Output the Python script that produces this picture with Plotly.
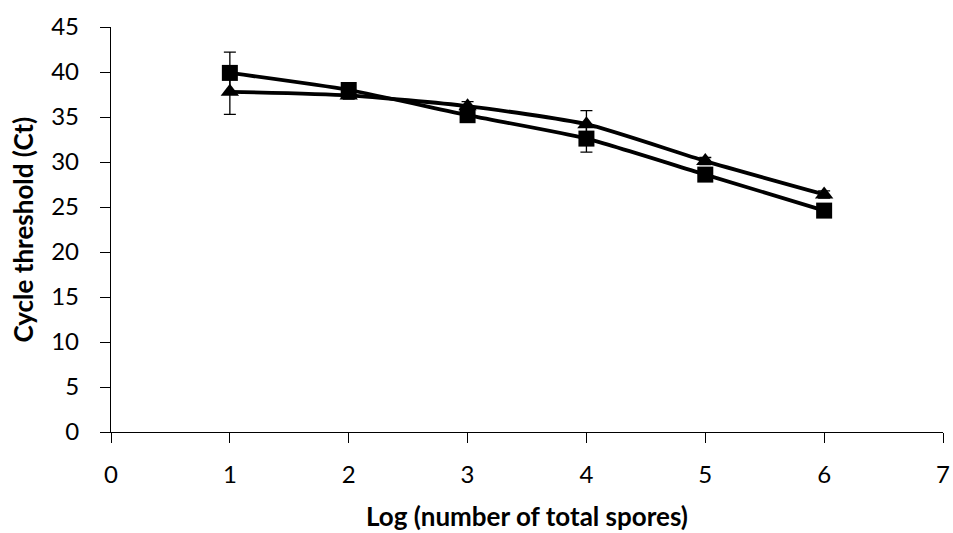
import plotly.graph_objects as go

x_vals = [1, 2, 3, 4, 5, 6]
square_ct = [39.9, 38.0, 35.2, 32.6, 28.6, 24.6]
square_err = [2.3, 0.4, 0.5, 1.5, 0.4, 0.4]
triangle_ct = [37.8, 37.4, 36.2, 34.2, 30.1, 26.4]
triangle_err = [2.5, 0.4, 0.5, 1.5, 0.4, 0.4]
x_ticks = [0, 1, 2, 3, 4, 5, 6, 7]
y_ticks = [0, 5, 10, 15, 20, 25, 30, 35, 40, 45]
x_title = "Log (number of total spores)"
y_title = "Cycle threshold (Ct)"

font_family = "Lato, 'Liberation Sans', sans-serif"

fig = go.Figure()
fig.add_trace(go.Scatter(
    x=x_vals, y=triangle_ct, mode="lines+markers",
    line=dict(color="black", width=3.8, shape="spline", smoothing=0.6),
    marker=dict(symbol="triangle-up", size=16, color="black"),
    error_y=dict(type="data", array=triangle_err, color="black", thickness=1.3, width=6),
    showlegend=False,
))
fig.add_trace(go.Scatter(
    x=x_vals, y=square_ct, mode="lines+markers",
    line=dict(color="black", width=3.8, shape="spline", smoothing=0.6),
    marker=dict(symbol="square", size=16, color="black"),
    error_y=dict(type="data", array=square_err, color="black", thickness=1.3, width=6),
    showlegend=False,
))

axis_common = dict(
    ticks="outside", ticklen=10, tickwidth=1.3, tickcolor="black",
    showline=True, linecolor="black", linewidth=1.3,
    showgrid=False, zeroline=False, tickfont=dict(size=24), automargin=False,
)

fig.update_layout(
    width=953, height=533,
    margin=dict(l=111, r=10, t=27, b=101, autoexpand=False),
    paper_bgcolor="white", plot_bgcolor="white",
    font=dict(family=font_family, color="black", size=24),
    xaxis=dict(range=[0, 7], tickvals=x_ticks, ticklabelstandoff=11,
               ticklabeloverflow="allow", **axis_common),
    yaxis=dict(range=[0, 45], tickvals=y_ticks, ticklabelstandoff=16, **axis_common),
    annotations=[
        dict(text="<b>" + x_title + "</b>", x=0.5, y=0, xref="paper", yref="paper",
             xanchor="center", yanchor="middle", yshift=-84, showarrow=False,
             font=dict(size=26)),
        dict(text="<b>" + y_title + "</b>", x=0, y=0.5, xref="paper", yref="paper",
             xanchor="center", yanchor="middle", xshift=-89, textangle=-90,
             showarrow=False, font=dict(size=26)),
    ],
)

fig.write_html(
    "out.html",
    config={"displayModeBar": False},
    post_script="document.body.style.margin='0';document.body.style.overflow='hidden';",
)
